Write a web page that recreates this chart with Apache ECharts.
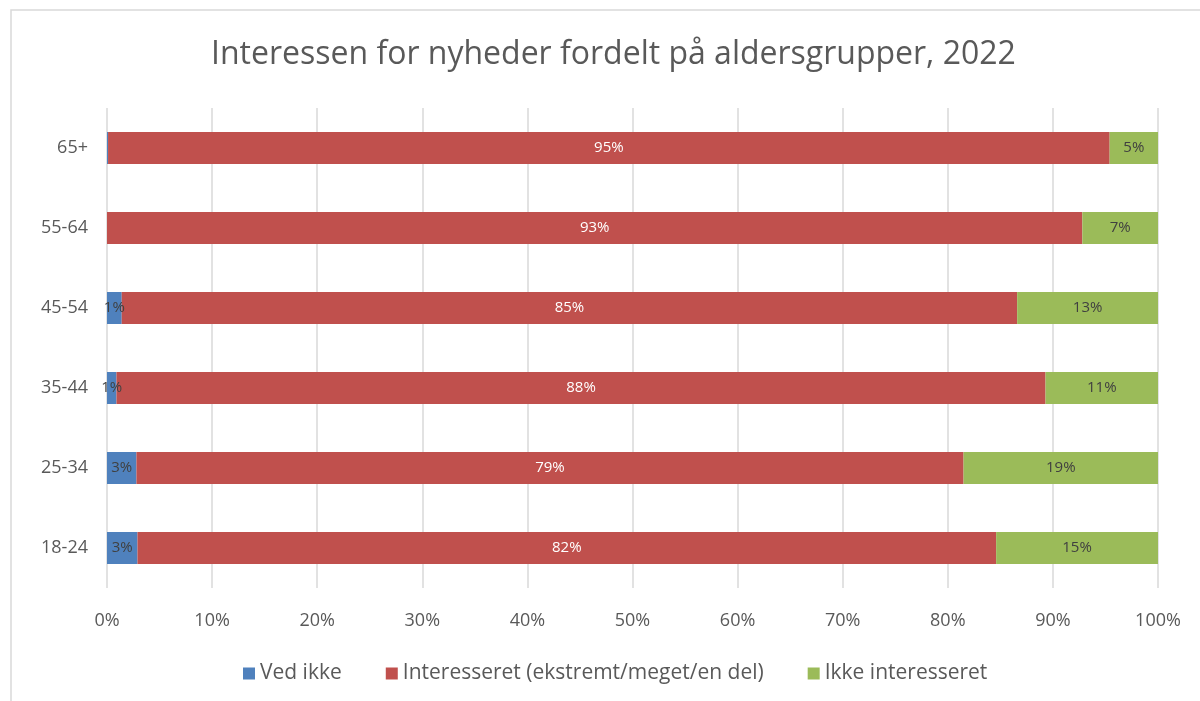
<!DOCTYPE html>
<html lang="da">
<head>
    <meta charset="UTF-8">
    <title>Interessen for nyheder</title>
    <style>
        html, body { margin: 0; padding: 0; background: #fff; }
        #main { width: 1200px; height: 701px; }
    </style>
    <script type="text/javascript" src="https://cdn.jsdelivr.net/npm/echarts@6/dist/echarts.min.js"></script>
</head>
<body>
<div id="main"></div>
<script>
    // aldersgrupper, nederst til øverst
    var ageGroups = ['18-24', '25-34', '35-44', '45-54', '55-64', '65+'];
    var vedIkke = [2.9, 2.8, 0.9, 1.4, 0, 0.1];
    var interesseret = [81.7, 78.7, 88.4, 85.2, 92.8, 95.3];
    var ikkeInteresseret = [15.4, 18.5, 10.7, 13.4, 7.2, 4.6];
    var seriesNames = ['Ved ikke', 'Interesseret (ekstremt/meget/en del)', 'Ikke interesseret'];
    var colors = ['#4F81BD', '#C0504D', '#9BBB59'];

    var font = '"Open Sans", "Noto Sans", sans-serif';
    var chart = echarts.init(document.getElementById('main'));

    function pct(p) {
        if (p.value < 0.5) return '';
        return Math.round(p.value) + '%';
    }

    function makeSeries(name, data, labelColor) {
        return {
            name: name,
            type: 'bar',
            stack: 'total',
            data: data,
            barCategoryGap: '60%',
            label: {
                show: true,
                position: 'inside',
                formatter: pct,
                color: labelColor,
                fontFamily: font,
                fontSize: 15
            }
        };
    }

    var option = {
        animation: false,
        color: colors,
        title: {
            text: 'Interessen for nyheder fordelt på aldersgrupper, 2022',
            left: 206,
            top: 34,
            textStyle: {
                color: '#595959',
                fontFamily: font,
                fontWeight: 'normal',
                fontSize: 32
            }
        },
        legend: {
            bottom: 12,
            left: 238,
            itemWidth: 12,
            itemHeight: 12,
            itemGap: 44,
            icon: 'rect',
            textStyle: { color: '#595959', fontFamily: font, fontSize: 21 },
            data: seriesNames
        },
        grid: { left: 107, right: 42, top: 108, bottom: 113 },
        xAxis: {
            type: 'value',
            min: 0,
            max: 100,
            interval: 10,
            axisLine: { show: false },
            axisTick: { show: false },
            axisLabel: {
                formatter: '{value}%',
                color: '#595959',
                fontFamily: font,
                fontSize: 18,
                margin: 24
            },
            splitLine: { lineStyle: { color: '#d9d9d9', width: 1.5 } }
        },
        yAxis: {
            type: 'category',
            data: ageGroups,
            axisLine: { show: false },
            axisTick: { show: false },
            axisLabel: {
                color: '#595959',
                fontFamily: font,
                fontSize: 18,
                margin: 19
            }
        },
        graphic: [{
            type: 'rect',
            shape: { x: 11, y: 10, width: 1400, height: 900 },
            style: { fill: 'none', stroke: '#d9d9d9', lineWidth: 1.5 },
            silent: true
        }],
        series: [
            makeSeries(seriesNames[0], vedIkke, '#404040'),
            makeSeries(seriesNames[1], interesseret, '#ffffff'),
            makeSeries(seriesNames[2], ikkeInteresseret, '#404040')
        ]
    };
    chart.setOption(option);
</script>
</body>
</html>
